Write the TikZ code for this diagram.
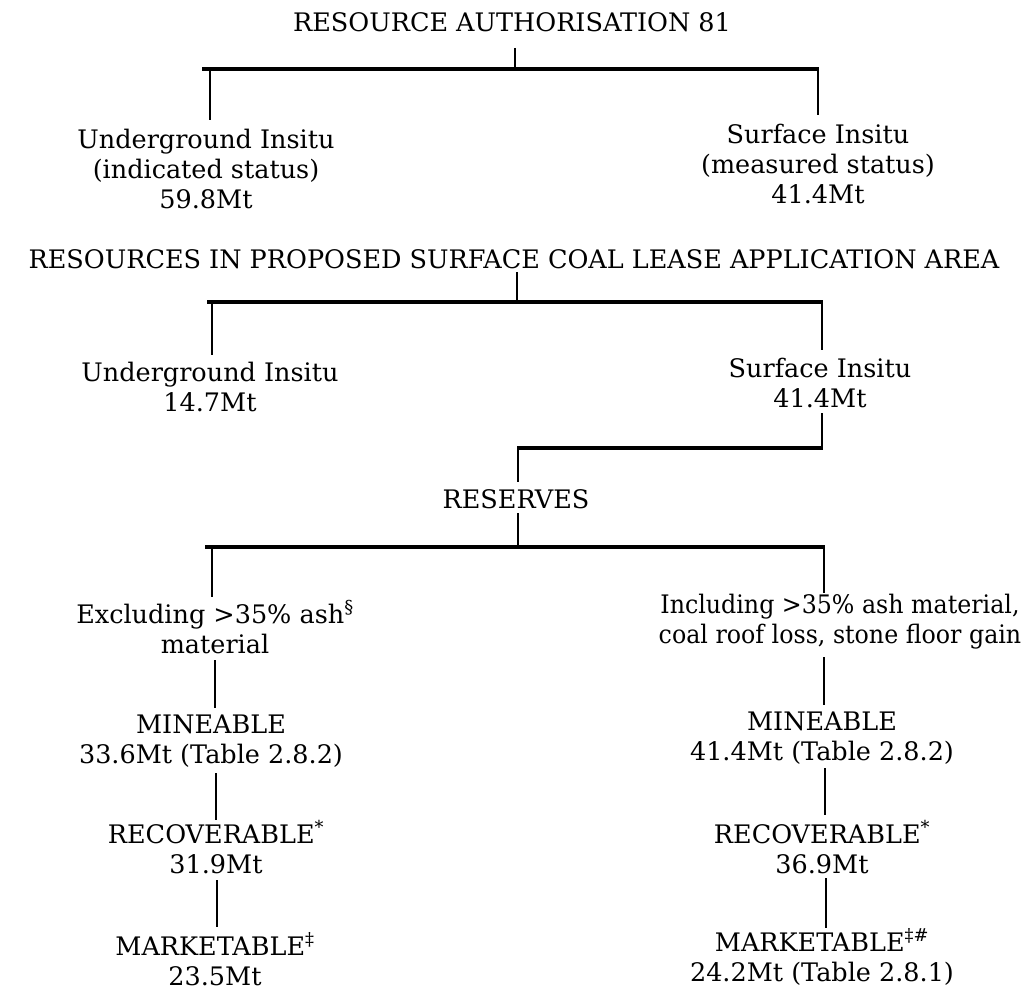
\documentclass[tikz,border=0pt]{standalone}
\usepackage{fontspec}
\setmainfont{DejaVu Serif}
\newfontfamily\narrowserif[FakeStretch=0.93]{DejaVu Serif}
\usetikzlibrary{calc}
\begin{document}
\begin{tikzpicture}[x=1pt,y=-1pt,
  lab/.style={inner sep=0pt, align=center, anchor=base, font=\fontsize{25.5}{30}\selectfont},
  vl/.style={line width=1.8pt},
  hb/.style={line width=3.5pt},
]
\useasboundingbox (0,0) rectangle (1028,990);

% nodes (positioned at the baseline of their last line)
\node[lab] (t1) at (512,32) {RESOURCE AUTHORISATION 81};
\node[lab] (ul1) at (206,208) {Underground Insitu\\(indicated status)\\59.8Mt};
\node[lab] (sr1) at (818,203) {Surface Insitu\\(measured status)\\41.4Mt};
\node[lab] (t2) at (514,268) {RESOURCES IN PROPOSED SURFACE COAL LEASE APPLICATION AREA};
\node[lab] (ul2) at (210,411) {Underground Insitu\\14.7Mt};
\node[lab] (sr2) at (820,407) {Surface Insitu\\41.4Mt};
\node[lab] (res) at (516,508) {RESERVES};
\node[lab] (exl) at (215,653) {Excluding >35\% ash\textsuperscript{\S}\\material};
\node[lab, font=\narrowserif\fontsize{25.5}{30}\selectfont] (inl) at (840,643) {Including >35\% ash material,\\coal roof loss, stone floor gain};
\node[lab] (mnL) at (211,763) {MINEABLE\\33.6Mt (Table 2.8.2)};
\node[lab] (mnR) at (822,760) {MINEABLE\\41.4Mt (Table 2.8.2)};
\node[lab] (rcL) at (216,873) {RECOVERABLE\textsuperscript{*}\\31.9Mt};
\node[lab] (rcR) at (822,873) {RECOVERABLE\textsuperscript{*}\\36.9Mt};
\node[lab] (mkL) at (215,985) {MARKETABLE\textsuperscript{\ddag}\\23.5Mt};
\node[lab] (mkR) at (822,981) {MARKETABLE\textsuperscript{\ddag\#}\\24.2Mt (Table 2.8.1)};

% junction coordinates
\coordinate (j1) at (515,69);
\coordinate (j1L) at (210,69);
\coordinate (j1R) at (818,69);
\coordinate (j2) at (517,302);
\coordinate (j2L) at (212,302);
\coordinate (j2R) at (822,302);
\coordinate (j3) at (518,448);
\coordinate (j3R) at (822,448);
\coordinate (j4) at (518,547);
\coordinate (j4L) at (212,547);
\coordinate (j4R) at (824,547);

% level 1
\draw[vl] ($(t1.base -| j1)+(0,16)$) -- (j1);
\draw[hb] ($(j1L)+(-8,0)$) -- ($(j1R)+(0.9,0)$);
\draw[vl] (j1L) -- ($(ul1.base -| j1L)+(0,-88)$);
\draw[vl] (j1R) -- ($(sr1.base -| j1R)+(0,-88)$);

% level 2
\draw[vl] ($(t2.base -| j2)+(0,4)$) -- (j2);
\draw[hb] ($(j2L)+(-5,0)$) -- ($(j2R)+(0.9,0)$);
\draw[vl] (j2L) -- ($(ul2.base -| j2L)+(0,-56)$);
\draw[vl] (j2R) -- ($(sr2.base -| j2R)+(0,-57)$);

% surface insitu -> reserves
\draw[vl] ($(sr2.base -| j3R)+(0,6)$) -- (j3R);
\draw[hb] ($(j3)+(-0.9,0)$) -- ($(j3R)+(0.9,0)$);
\draw[vl] (j3) -- ($(res.base -| j3)+(0,-26)$);

% reserves split
\draw[vl] ($(res.base -| j4)+(0,5)$) -- (j4);
\draw[hb] ($(j4L)+(-7,0)$) -- ($(j4R)+(0.9,0)$);
\draw[vl] (j4L) -- ($(exl.base -| j4L)+(0,-56)$);
\draw[vl] (j4R) -- ($(inl.base -| j4R)+(0,-50)$);

% left chain
\draw[vl] ($(exl.base -| 215,0)+(0,7)$) -- ($(mnL.base -| 215,0)+(0,-55)$);
\draw[vl] ($(mnL.base -| 216,0)+(0,10)$) -- ($(rcL.base -| 216,0)+(0,-53)$);
\draw[vl] ($(rcL.base -| 217,0)+(0,7)$) -- ($(mkL.base -| 217,0)+(0,-58)$);

% right chain
\draw[vl] ($(inl.base -| 824,0)+(0,14)$) -- ($(mnR.base -| 824,0)+(0,-55)$);
\draw[vl] ($(mnR.base -| 825,0)+(0,8)$) -- ($(rcR.base -| 825,0)+(0,-58)$);
\draw[vl] ($(rcR.base -| 826,0)+(0,5)$) -- ($(mkR.base -| 826,0)+(0,-53)$);
\end{tikzpicture}
\end{document}
